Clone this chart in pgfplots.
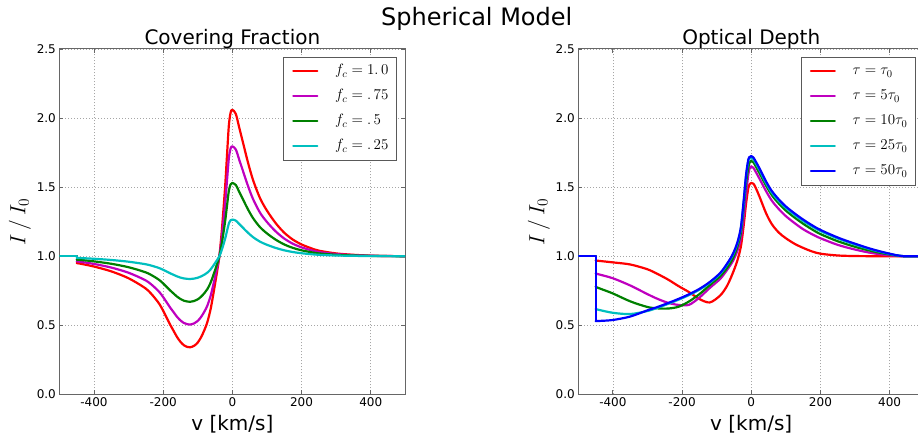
\documentclass[border=0pt]{standalone}
\usepackage{fix-cm}
\usepackage[no-math]{fontspec}
\setmainfont{DejaVu Sans}
\usepackage{pgfplots}
\usepackage{pgfplotstable}
\pgfplotsset{compat=1.18}

\definecolor{mplred}{rgb}{1,0,0}
\definecolor{mplmag}{rgb}{0.75,0,0.75}
\definecolor{mplgreen}{rgb}{0,0.5,0}
\definecolor{mplcyan}{rgb}{0,0.75,0.75}
\definecolor{mplblue}{rgb}{0,0,1}

% Covering fraction profiles (absorbing part, from the cutoff at -450 km/s):
% columns are f_c = 1.0, .75, .5, .25
\pgfplotstableread{
v      r      m       g       c
-450   0.95   0.9625  0.975   0.9875
-440   0.946  0.9596  0.973   0.9865
-400   0.925  0.9438  0.9625  0.9813
-350   0.89   0.9175  0.945   0.9725
-300   0.84   0.88    0.92    0.96
-250   0.765  0.8238  0.8825  0.9413
-225   0.70   0.775   0.85    0.925
-210   0.65   0.7375  0.825   0.9125
-200   0.605  0.7038  0.8025  0.9013
-190   0.555  0.6663  0.7775  0.8888
-180   0.505  0.6288  0.7525  0.8763
-170   0.46   0.595   0.73    0.865
-160   0.415  0.5613  0.7075  0.8538
-150   0.38   0.535   0.69    0.845
-140   0.355  0.5163  0.6775  0.8388
-130   0.343  0.5073  0.6715  0.8358
-122   0.34   0.505   0.67    0.835
-110   0.352  0.514   0.676   0.838
-100   0.375  0.5313  0.6875  0.8438
-90    0.415  0.5613  0.7075  0.8538
-80    0.47   0.6025  0.735   0.8675
-72    0.525  0.6438  0.7625  0.8813
-63    0.615  0.7113  0.8075  0.9038
-55    0.725  0.7938  0.8625  0.9313
-46    0.86   0.895   0.93    0.965
-37.5  1.0    1.0     1.0     1.0
-30    1.2    1.15    1.1     1.05
-21    1.5    1.375   1.25    1.125
-15    1.75   1.5625  1.375   1.1875
-10    1.95   1.7125  1.475   1.2375
-5     2.04   1.78    1.52    1.26
0      2.06   1.795   1.53    1.265
10     2.03   1.7725  1.515   1.2575
20     1.93   1.6975  1.465   1.2325
30     1.83   1.6225  1.415   1.2075
45     1.68   1.51    1.34    1.17
60     1.55   1.4125  1.275   1.1375
80     1.42   1.315   1.21    1.105
100    1.33   1.2475  1.165   1.0825
125    1.24   1.18    1.12    1.06
150    1.17   1.1275  1.085   1.0425
175    1.12   1.09    1.06    1.03
200    1.085  1.0638  1.0425  1.0213
225    1.06   1.045   1.03    1.015
250    1.04   1.03    1.02    1.01
300    1.02   1.015   1.01    1.005
350    1.01   1.0075  1.005   1.0025
400    1.004  1.003   1.002   1.001
450    1.001  1.0008  1.0005  1.0003
500    1      1       1       1
}\coverdata

% Optical depth profiles (from the cutoff at -450 km/s):
% columns are tau = 50, 25, 10, 5, 1 tau_0
\pgfplotstableread{
v      b      c      g      m      r
-450   0.53   0.617  0.778  0.875  0.969
-440   0.531  0.611  0.768  0.868  0.966
-400   0.538  0.59   0.73   0.84   0.955
-350   0.563  0.581  0.673  0.788  0.94
-300   0.608  0.603  0.632  0.725  0.905
-270   0.633  0.627  0.622  0.69   0.87
-240   0.661  0.655  0.621  0.662  0.83
-210   0.691  0.685  0.634  0.647  0.783
-180   0.724  0.718  0.672  0.648  0.74
-150   0.763  0.757  0.725  0.70   0.69
-120   0.813  0.807  0.79   0.77   0.665
-90    0.878  0.872  0.855  0.835  0.715
-70    0.945  0.939  0.915  0.90   0.785
-53    1.017  1.01   0.985  0.965  0.88
-40    1.10   1.093  1.07   1.04   0.97
-30    1.21   1.20   1.17   1.13   1.07
-22    1.40   1.39   1.35   1.28   1.22
-15    1.59   1.58   1.53   1.45   1.38
-8     1.705  1.695  1.65   1.60   1.50
-3     1.72   1.708  1.685  1.645  1.525
0      1.725  1.712  1.69   1.65   1.53
6      1.715  1.703  1.68   1.64   1.525
12     1.69   1.678  1.655  1.615  1.50
24     1.635  1.623  1.60   1.56   1.43
43     1.54   1.528  1.51   1.47   1.31
60     1.47   1.458  1.44   1.40   1.23
80     1.41   1.398  1.38   1.34   1.17
100    1.36   1.349  1.33   1.29   1.13
125    1.31   1.299  1.28   1.24   1.09
150    1.265  1.255  1.235  1.195  1.06
175    1.225  1.216  1.195  1.16   1.035
200    1.19   1.182  1.16   1.13   1.018
250    1.135  1.128  1.108  1.082  1.005
300    1.09   1.084  1.068  1.048  1.001
350    1.05   1.046  1.036  1.022  1
400    1.018  1.016  1.012  1.006  1
440    1      1      1      1      1
500    1      1      1      1      1
}\depthdata

\pgfplotsset{
  panel/.style={
    scale only axis, width=345.9pt, height=345.3pt,
    xmin=-500, xmax=500, ymin=0, ymax=2.5,
    xtick={-400,-200,0,200,400},
    ytick={0,0.5,1,1.5,2,2.5},
    /pgf/number format/assume math mode=true,
    yticklabel style={/pgf/number format/.cd, fixed, fixed zerofill, precision=1},
    tick label style={font=\fontsize{12}{12}\selectfont, text=black},
    axis line style={draw=black!60, line width=1pt},
    tick style={draw=black!60, line width=0.8pt},
    major tick length=4pt,
    grid=major,
    major grid style={draw=black!35, line width=0.6pt, dash pattern=on 1pt off 2pt},
    every axis title/.style={at={(axis description cs:0.5,1)}, anchor=base,
      yshift=4pt, font=\fontsize{20}{20}\selectfont},
    xlabel={v [km/s]},
    xlabel style={at={(axis description cs:0.5,-0.1034)}, anchor=base,
      font=\fontsize{20}{20}\selectfont},
    ylabel={$I\,/\,I_0$},
    ylabel style={at={(axis description cs:-0.114,0.5)}, anchor=center,
      font=\fontsize{22}{22}\selectfont},
    legend style={at={(rel axis cs:0.977,0.977)}, anchor=north east,
      draw=black!65, line width=0.9pt, fill=white,
      inner xsep=8.5pt, inner ysep=6.5pt, row sep=10pt, column sep=16.7pt,
      font=\fontsize{15}{15}\selectfont,
      nodes={inner sep=0pt, text height=11pt, text depth=4pt}},
    legend cell align=left,
    legend image code/.code={\draw[#1] (0pt,0pt) -- (24pt,0pt);},
    every axis plot/.append style={line width=2.2pt, line join=round, line cap=round},
    % continuum level up to the cutoff, then the drop
    cutoff/.style={sharp plot, forget plot},
    profile/.style={smooth, tension=0.5},
  },
}

\begin{document}
\begin{tikzpicture}
\begin{axis}[panel, at={(59.4pt,39.7pt)}, anchor=south west,
  title={Covering Fraction}]
  \addplot[mplred, cutoff]    coordinates {(-500,1) (-450,1) (-450,0.95)};
  \addplot[mplred, profile]   table[x=v, y=r] {\coverdata};
  \addplot[mplmag, cutoff]    coordinates {(-500,1) (-450,1) (-450,0.9625)};
  \addplot[mplmag, profile]   table[x=v, y=m] {\coverdata};
  \addplot[mplgreen, cutoff]  coordinates {(-500,1) (-450,1) (-450,0.975)};
  \addplot[mplgreen, profile] table[x=v, y=g] {\coverdata};
  \addplot[mplcyan, cutoff]   coordinates {(-500,1) (-450,1) (-450,0.9875)};
  \addplot[mplcyan, profile]  table[x=v, y=c] {\coverdata};
  \legend{$f_c=1.\,0$, $f_c=.\,75$, $f_c=.\,5$, $f_c=.\,25$}
\end{axis}

\begin{axis}[panel, at={(578.3pt,39.7pt)}, anchor=south west,
  title={Optical Depth}]
  \addplot[mplred, cutoff]    coordinates {(-500,1) (-450,1) (-450,0.969)};
  \addplot[mplred, profile]   table[x=v, y=r] {\depthdata};
  \addplot[mplmag, cutoff]    coordinates {(-500,1) (-450,1) (-450,0.875)};
  \addplot[mplmag, profile]   table[x=v, y=m] {\depthdata};
  \addplot[mplgreen, cutoff]  coordinates {(-500,1) (-450,1) (-450,0.778)};
  \addplot[mplgreen, profile] table[x=v, y=g] {\depthdata};
  \addplot[mplcyan, cutoff]   coordinates {(-500,1) (-450,1) (-450,0.617)};
  \addplot[mplcyan, profile]  table[x=v, y=c] {\depthdata};
  \addplot[mplblue, cutoff]   coordinates {(-500,1) (-450,1) (-450,0.53)};
  \addplot[mplblue, profile]  table[x=v, y=b] {\depthdata};
  \legend{$\tau=\tau_0$, $\tau=5\tau_0$, $\tau=10\tau_0$, $\tau=25\tau_0$, $\tau=50\tau_0$}
\end{axis}

\node[anchor=base, font=\fontsize{24}{24}\selectfont] at (476.7pt,408pt) {Spherical Model};

\pgfresetboundingbox
\path[use as bounding box] (0pt,0pt) rectangle (918pt,434pt);
\end{tikzpicture}
\end{document}
